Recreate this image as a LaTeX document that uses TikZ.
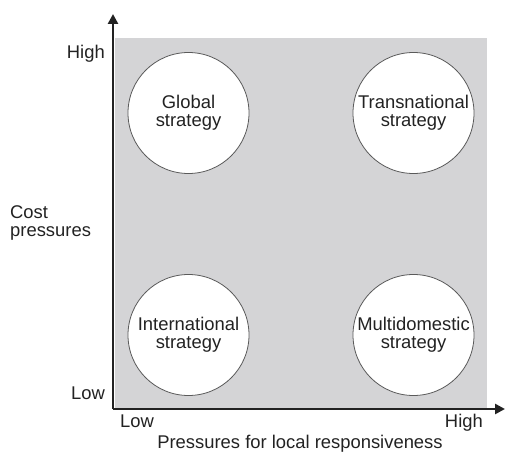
\documentclass[tikz,border=0pt]{standalone}
\usepackage{fontspec}
\setmainfont{Liberation Sans}
\usetikzlibrary{arrows.meta}
\definecolor{panel}{RGB}{212,212,214}
\definecolor{ink}{RGB}{34,34,34}
\definecolor{rim}{RGB}{90,90,90}
\begin{document}
\begin{tikzpicture}[x=1pt,y=-1pt,
  every node/.style={text=ink,font=\fontsize{18.4}{18}\selectfont,inner sep=0pt},
  axis/.style={draw=ink,line width=2.5pt,-{Triangle[length=10pt,width=10pt]}},
  strat/.style={circle,draw=rim,line width=0.8pt,fill=white,minimum size=121pt,align=center}]
  \useasboundingbox (0,0) rectangle (505,452);
  % shaded quadrant area
  \fill[panel] (115,38) rectangle (487,409);
  % axes
  \coordinate (O) at (113,409);
  \coordinate (ytip) at (113,14);
  \coordinate (xtip) at (505,409);
  \draw[axis] (O) -- (ytip);
  \draw[axis] (O) -- (xtip);
  % strategy circles
  \node[strat] (global) at (188.5,113) {Global\\strategy};
  \node[strat] (trans) at (413.5,113) {Transnational\\strategy};
  \node[strat] (inter) at (188.5,335) {International\\strategy};
  \node[strat] (multi) at (413.5,335) {Multidomestic\\strategy};
  % axis labels
  \node[anchor=base east] (yhigh) at (105,58) {High};
  \node[anchor=base east] (ylow) at (105,399) {Low};
  \node[anchor=base west] (xlow) at (120,427) {Low};
  \node[anchor=base east] (xhigh) at (483,427) {High};
  \node[anchor=north west,align=left] (ytitle) at (10,205) {Cost\\pressures};
  \node[anchor=base] (xtitle) at (300,448) {Pressures for local responsiveness};
\end{tikzpicture}
\end{document}
